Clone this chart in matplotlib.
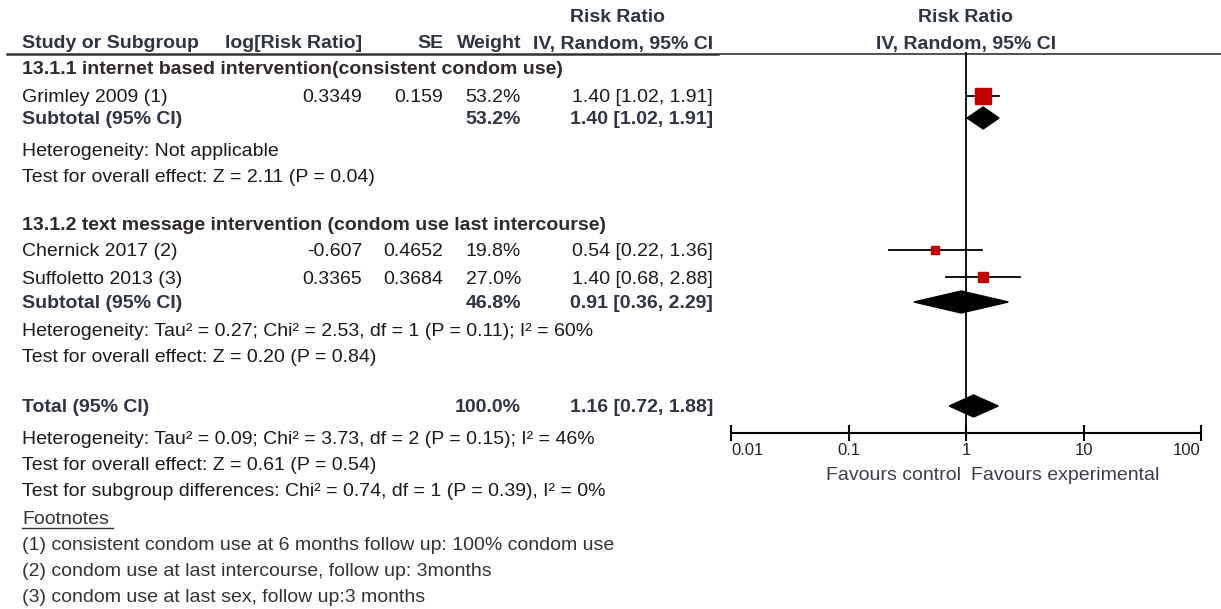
import numpy as np
import matplotlib
matplotlib.use("Agg")
from matplotlib import pyplot as plt
from matplotlib.patches import Polygon

plt.rcParams['font.family'] = ['Liberation Sans', 'DejaVu Sans']

# study rows
studies = ["Grimley 2009 (1)", "Chernick 2017 (2)", "Suffoletto 2013 (3)"]
log_rr = ["0.3349", "-0.607", "0.3365"]
se = ["0.159", "0.4652", "0.3684"]
weights = [53.2, 19.8, 27.0]
rr = [1.40, 0.54, 1.40]
rr_lo = [1.02, 0.22, 0.68]
rr_hi = [1.91, 1.36, 2.88]

# pooled rows (subtotal 1, subtotal 2, total)
pooled_labels = ["Subtotal (95% CI)", "Subtotal (95% CI)", "Total (95% CI)"]
pooled_weight = ["53.2%", "46.8%", "100.0%"]
pooled_rr = [1.40, 0.91, 1.16]
pooled_lo = [1.02, 0.36, 0.72]
pooled_hi = [1.91, 2.29, 1.88]

groups = ["13.1.1 internet based intervention(consistent condom use)",
          "13.1.2 text message intervention (condom use last intercourse)"]

stats_text = [
    "Heterogeneity: Not applicable",
    "Test for overall effect: Z = 2.11 (P = 0.04)",
    "Heterogeneity: Tau² = 0.27; Chi² = 2.53, df = 1 (P = 0.11); I² = 60%",
    "Test for overall effect: Z = 0.20 (P = 0.84)",
    "Heterogeneity: Tau² = 0.09; Chi² = 3.73, df = 2 (P = 0.15); I² = 46%",
    "Test for overall effect: Z = 0.61 (P = 0.54)",
    "Test for subgroup differences: Chi² = 0.74, df = 1 (P = 0.39), I² = 0%",
]
footnotes = [
    "(1) consistent condom use at 6 months follow up: 100% condom use",
    "(2) condom use at last intercourse, follow up: 3months",
    "(3) condom use at last sex, follow up:3 months",
]
ticks = [0.01, 0.1, 1, 10, 100]
tick_labels = ["0.01", "0.1", "1", "10", "100"]

# layout (pixel rows)
study_y = [96, 250, 277]
pooled_y = [118, 302, 406]
group_y = [68, 223]
stats_y = [149, 175, 330, 356, 438, 463, 489]
foot_y = [544, 570, 596]

W, H = 1221, 609
fig = plt.figure(figsize=(W / 100, H / 100), dpi=100)
ax = fig.add_axes([0, 0, 1, 1])
ax.set_xlim(0, W)
ax.set_ylim(H, 0)
ax.axis('off')

fs = 14
hc = '#2e3440'
tc = '#1a1a1a'
dy = 2  # nudge text down to match row baselines

# headers
ax.text(618, 16 + dy, "Risk Ratio", ha='center', va='center', fontsize=fs, fontweight='bold', color=hc)
ax.text(966, 16 + dy, "Risk Ratio", ha='center', va='center', fontsize=fs, fontweight='bold', color=hc)
ax.text(22, 42 + dy, "Study or Subgroup", ha='left', va='center', fontsize=fs, fontweight='bold', color=hc)
ax.text(362, 42 + dy, "log[Risk Ratio]", ha='right', va='center', fontsize=fs, fontweight='bold', color=hc)
ax.text(443, 42 + dy, "SE", ha='right', va='center', fontsize=fs, fontweight='bold', color=hc)
ax.text(521, 42 + dy, "Weight", ha='right', va='center', fontsize=fs, fontweight='bold', color=hc)
ax.text(713, 42 + dy, "IV, Random, 95% CI", ha='right', va='center', fontsize=fs, fontweight='bold', color=hc)
ax.text(966, 42 + dy, "IV, Random, 95% CI", ha='center', va='center', fontsize=fs, fontweight='bold', color=hc)
ax.plot([7, 718], [53.5, 53.5], color='#333333', lw=1.8)
ax.plot([720, 1221], [53.5, 53.5], color='#333333', lw=1.2)

for g, y in zip(groups, group_y):
    ax.text(22, y + dy, g, ha='left', va='center', fontsize=fs, fontweight='bold', color='#2f2a28')

for i, y in enumerate(study_y):
    ax.text(22, y + dy, studies[i], ha='left', va='center', fontsize=fs, color=tc)
    ax.text(362, y + dy, log_rr[i], ha='right', va='center', fontsize=fs, color=tc)
    ax.text(443, y + dy, se[i], ha='right', va='center', fontsize=fs, color=tc)
    ax.text(521, y + dy, f"{weights[i]:.1f}%", ha='right', va='center', fontsize=fs, color=tc)
    ax.text(713, y + dy, f"{rr[i]:.2f} [{rr_lo[i]:.2f}, {rr_hi[i]:.2f}]", ha='right', va='center',
            fontsize=fs, color=tc)

for i, y in enumerate(pooled_y):
    ax.text(22, y + dy, pooled_labels[i], ha='left', va='center', fontsize=fs, fontweight='bold', color=hc)
    ax.text(521, y + dy, pooled_weight[i], ha='right', va='center', fontsize=fs, fontweight='bold', color=hc)
    ax.text(713, y + dy, f"{pooled_rr[i]:.2f} [{pooled_lo[i]:.2f}, {pooled_hi[i]:.2f}]", ha='right',
            va='center', fontsize=fs, fontweight='bold', color=hc)

for s, y in zip(stats_text, stats_y):
    ax.text(22, y + dy, s, ha='left', va='center', fontsize=fs, color=tc)

ax.text(22, 517 + dy, "Footnotes", ha='left', va='center', fontsize=fs, color='#333333')
ax.plot([22, 113], [528, 528], color='#333333', lw=1)
for s, y in zip(footnotes, foot_y):
    ax.text(22, y + dy, s, ha='left', va='center', fontsize=fs, color='#333333')

# forest panel
fax = fig.add_axes([731 / W, 0, (1201 - 731) / W, 1])
fax.set_xscale('log')
fax.set_xlim(0.01, 100)
fax.set_ylim(H, 0)
fax.patch.set_alpha(0)
for sp in ['top', 'left', 'right']:
    fax.spines[sp].set_visible(False)
fax.spines['bottom'].set_position(('data', 433))
fax.spines['bottom'].set_linewidth(1.5)
fax.set_yticks([])
fax.minorticks_off()
fax.set_xticks(ticks)
fax.set_xticklabels(tick_labels)
fax.tick_params(axis='x', direction='inout', length=12, width=1.5, labelsize=12, pad=1,
                labelcolor='#222222')
labs = fax.get_xticklabels()
labs[0].set_ha('left')
labs[-1].set_ha('right')

fax.plot([1, 1], [53, 433], color='black', lw=1.3)

for i, y in enumerate(study_y):
    fax.plot([rr_lo[i], rr_hi[i]], [y, y], color='black', lw=1.3)
    ms = 11.5 * (weights[i] / 53.2) ** 0.8
    fax.plot(rr[i], y, marker='s', ms=ms, color='#c00000', mec='#c00000')

for i, y in enumerate(pooled_y):
    half = 11
    pts = [(pooled_lo[i], y), (pooled_rr[i], y - half), (pooled_hi[i], y), (pooled_rr[i], y + half)]
    fax.add_patch(Polygon(pts, closed=True, color='black'))

fax.text(0.9, 473 + dy, "Favours control", ha='right', va='center', fontsize=fs, color='#3a3f4a')
fax.text(1.1, 473 + dy, "Favours experimental", ha='left', va='center', fontsize=fs, color='#3a3f4a')

fig.savefig("out.png", dpi=100)
